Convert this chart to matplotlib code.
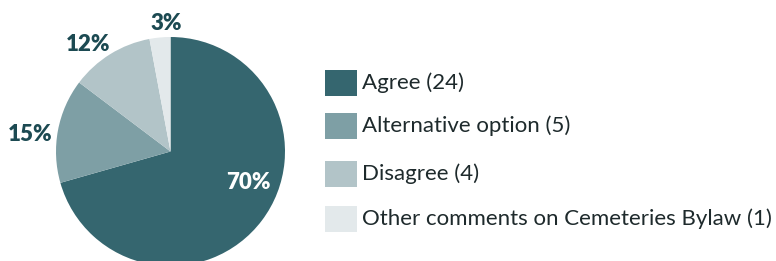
import matplotlib
matplotlib.use("Agg")
import matplotlib.pyplot as plt
from matplotlib.patches import Rectangle

categories = ["Agree", "Alternative option", "Disagree", "Other comments on Cemeteries Bylaw"]
counts = [24, 5, 4, 1]
pct_labels = ["70%", "15%", "12%", "3%"]
colors = ["#35666f", "#7e9fa5", "#b2c4c8", "#e3e9eb"]
label_colors = ["white", "#1c4a52", "#1c4a52", "#1c4a52"]
label_pos = [(0.677, -0.27), (-1.227, 0.15), (-0.72, 0.935), (-0.04, 1.12)]

W, H = 776, 261
fig = plt.figure(figsize=(W / 100, H / 100), dpi=100)
plt.rcParams['font.family'] = ['Lato', 'DejaVu Sans']

cx, cy, r = 170.5, 261 - 151.5, 114.5
ax = fig.add_axes([(cx - r) / W, (cy - r) / H, 2 * r / W, 2 * r / H])
ax.pie(counts, colors=colors, startangle=90, counterclock=False, radius=1,
       wedgeprops=dict(linewidth=0), frame=False)
ax.set_xlim(-1, 1)
ax.set_ylim(-1, 1)
ax.set_aspect('equal')
ax.axis('off')
for t, c, (x, y) in zip(pct_labels, label_colors, label_pos):
    ax.text(x, y, t, color=c, fontsize=16, fontweight='heavy', ha='center', va='center',
            clip_on=False)

# legend
sq_x, sq_w, sq_h = 325, 32, 26
row_y = [83, 126, 174, 219]
for cat, n, col, yc in zip(categories, counts, colors, row_y):
    fig.patches.append(Rectangle((sq_x / W, (H - yc - sq_h / 2) / H), sq_w / W, sq_h / H,
                                 transform=fig.transFigure, color=col, lw=0))
    fig.text(362 / W, (H - yc) / H, f"{cat} ({n})", fontsize=16, color="#1e2a2c",
             ha='left', va='center')

fig.savefig("out.png", dpi=100)
